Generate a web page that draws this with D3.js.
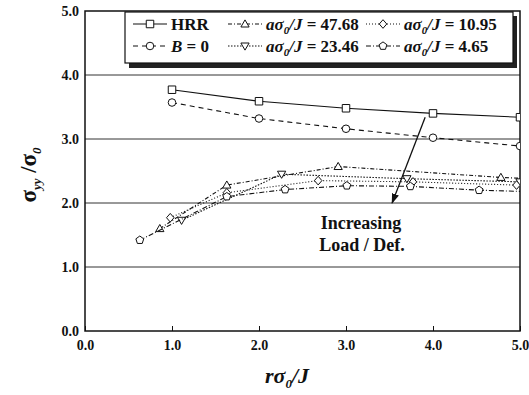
<!DOCTYPE html>
<html>
<head>
<meta charset="utf-8">
<script src="https://cdn.jsdelivr.net/npm/d3@7"></script>
<style>
  html, body { margin: 0; padding: 0; background: #fff; }
  svg { display: block; }
</style>
</head>
<body>
<svg id="chart" width="529" height="395"></svg>
<script>
// Crack-tip opening stress profiles: HRR field, B = 0 reference, and four load levels
const xTicks = [0, 1, 2, 3, 4, 5];
const yTicks = [0, 1, 2, 3, 4, 5];
const tickLabels = ["0.0", "1.0", "2.0", "3.0", "4.0", "5.0"];

const hrrX = [1, 2, 3, 4, 5];
const hrrY = [3.77, 3.59, 3.48, 3.40, 3.34];

const b0X = [1, 2, 3, 4, 5];
const b0Y = [3.57, 3.32, 3.16, 3.02, 2.89];

const a4768X = [0.86, 1.63, 2.91, 4.78, 5.3];
const a4768Y = [1.60, 2.28, 2.57, 2.40, 2.37];

const a2346X = [1.11, 2.26, 3.70, 5.0];
const a2346Y = [1.73, 2.45, 2.38, 2.33];

const a1095X = [0.98, 1.63, 2.68, 3.77, 4.96];
const a1095Y = [1.77, 2.16, 2.35, 2.33, 2.28];

const a465X = [0.63, 1.63, 2.30, 3.01, 3.74, 4.53, 5.3];
const a465Y = [1.42, 2.10, 2.21, 2.27, 2.26, 2.20, 2.17];

const arrowFrom = [3.91, 3.34];
const arrowTo = [3.53, 2.00];

const series = [
  { name: "HRR",   xs: hrrX,   ys: hrrY,   marker: "square",   dash: null },
  { name: "B0",    xs: b0X,    ys: b0Y,    marker: "circle",   dash: "5,4" },
  { name: "47.68", xs: a4768X, ys: a4768Y, marker: "triUp",    dash: "4,2,1,2" },
  { name: "23.46", xs: a2346X, ys: a2346Y, marker: "triDown",  dash: "1.5,1.5" },
  { name: "10.95", xs: a1095X, ys: a1095Y, marker: "diamond",  dash: "1,2" },
  { name: "4.65",  xs: a465X,  ys: a465Y,  marker: "pentagon", dash: "5,2,1,2" }
];

const FONT = '"Liberation Serif", "Times New Roman", serif';
const svg = d3.select("#chart");
const plotLeft = 85, plotRight = 520, plotTop = 11, plotBottom = 331;
const x = d3.scaleLinear().domain([0, 5]).range([plotLeft, plotRight]);
const y = d3.scaleLinear().domain([0, 5]).range([plotBottom, plotTop]);

const defs = svg.append("defs");
defs.append("clipPath").attr("id", "plotClip")
  .append("rect").attr("x", plotLeft).attr("y", plotTop)
  .attr("width", plotRight - plotLeft).attr("height", plotBottom - plotTop);

// horizontal grid lines
svg.append("g").selectAll("line").data(yTicks.slice(1, -1)).join("line")
  .attr("x1", plotLeft).attr("x2", plotRight)
  .attr("y1", d => y(d)).attr("y2", d => y(d))
  .attr("stroke", "#333").attr("stroke-width", 1);

// axes with inward ticks
const xAxis = d3.axisBottom(x).tickValues(xTicks).tickSize(-5).tickFormat((d, i) => tickLabels[i]).tickPadding(9);
const gx = svg.append("g").attr("transform", `translate(0,${plotBottom})`).call(xAxis);
gx.attr("font-family", FONT);
gx.selectAll("text").attr("font-size", 14);
gx.select(".domain").remove();
gx.selectAll("line").attr("stroke", "#111");

const yAxis = d3.axisLeft(y).tickValues(yTicks).tickSize(0).tickFormat((d, i) => tickLabels[i]).tickPadding(6);
const gy = svg.append("g").attr("transform", `translate(${plotLeft},0)`).call(yAxis);
gy.attr("font-family", FONT);
gy.selectAll("text").attr("font-size", 14);
gy.select(".domain").remove();

// plot frame
svg.append("rect").attr("x", plotLeft).attr("y", plotTop)
  .attr("width", plotRight - plotLeft).attr("height", plotBottom - plotTop)
  .attr("fill", "none").attr("stroke", "#111").attr("stroke-width", 1.5);

function markerPath(type, s) {
  const r = s / 2;
  switch (type) {
    case "square": return `M${-r},${-r}H${r}V${r}H${-r}Z`;
    case "circle": return d3.symbol(d3.symbolCircle, s * s * 0.8)();
    case "triUp": return `M0,${-r * 1.1}L${r * 1.1},${r * 0.8}L${-r * 1.1},${r * 0.8}Z`;
    case "triDown": return `M0,${r * 1.1}L${r * 1.1},${-r * 0.8}L${-r * 1.1},${-r * 0.8}Z`;
    case "diamond": return `M0,${-r * 1.15}L${r},0L0,${r * 1.15}L${-r},0Z`;
    case "pentagon": {
      const pts = d3.range(5).map(i => {
        const a = -Math.PI / 2 + i * 2 * Math.PI / 5;
        return [Math.cos(a) * r * 1.1, Math.sin(a) * r * 1.1];
      });
      return "M" + pts.map(p => p.join(",")).join("L") + "Z";
    }
  }
}

const plot = svg.append("g").attr("clip-path", "url(#plotClip)");
const line = d3.line().x(d => x(d[0])).y(d => y(d[1]));

series.forEach(s => {
  const pts = s.xs.map((v, i) => [v, s.ys[i]]);
  plot.append("path").datum(pts).attr("d", line)
    .attr("fill", "none").attr("stroke", "#111").attr("stroke-width", 1.1)
    .attr("stroke-dasharray", s.dash);
  plot.append("g").selectAll("path").data(pts).join("path")
    .attr("transform", d => `translate(${x(d[0])},${y(d[1])})`)
    .attr("d", markerPath(s.marker, 7.5))
    .attr("fill", "#fff").attr("stroke", "#111").attr("stroke-width", 1);
});

// arrow showing increasing load
defs.append("marker").attr("id", "arrowHead")
  .attr("viewBox", "0 0 10 10").attr("refX", 9).attr("refY", 5)
  .attr("markerWidth", 8).attr("markerHeight", 8).attr("orient", "auto")
  .append("path").attr("d", "M0,1.5L10,5L0,8.5Z").attr("fill", "#111");
svg.append("line")
  .attr("x1", x(arrowFrom[0])).attr("y1", y(arrowFrom[1]))
  .attr("x2", x(arrowTo[0])).attr("y2", y(arrowTo[1]))
  .attr("stroke", "#111").attr("stroke-width", 1.3)
  .attr("marker-end", "url(#arrowHead)");

const note = svg.append("text").attr("font-size", 18).attr("text-anchor", "middle");
note.append("tspan").attr("x", 361).attr("y", 229).text("Increasing");
note.append("tspan").attr("x", 362).attr("y", 251).text("Load / Def.");

// legend
const lg = svg.append("g");
lg.append("rect").attr("x", 129).attr("y", 16).attr("width", 388).attr("height", 52).attr("fill", "#222");
lg.append("rect").attr("x", 125).attr("y", 12).attr("width", 388).attr("height", 51)
  .attr("fill", "#fff").attr("stroke", "#111").attr("stroke-width", 1.2);

const cols = [133, 228, 366];
const rows = [24, 46];
const legendItems = [
  { s: series[0], col: 0, row: 0, label: "HRR" },
  { s: series[2], col: 1, row: 0, label: "47.68" },
  { s: series[4], col: 2, row: 0, label: "10.95" },
  { s: series[1], col: 0, row: 1, label: "B0" },
  { s: series[3], col: 1, row: 1, label: "23.46" },
  { s: series[5], col: 2, row: 1, label: "4.65" }
];
legendItems.forEach(it => {
  const x0 = cols[it.col], yy = rows[it.row];
  lg.append("line").attr("x1", x0).attr("x2", x0 + 34).attr("y1", yy).attr("y2", yy)
    .attr("stroke", "#111").attr("stroke-width", 1.1).attr("stroke-dasharray", it.s.dash);
  lg.append("path").attr("transform", `translate(${x0 + 17},${yy})`)
    .attr("d", markerPath(it.s.marker, 7.5))
    .attr("fill", "#fff").attr("stroke", "#111");
  const t = lg.append("text").attr("x", x0 + 38).attr("y", yy + 6).attr("font-size", 17);
  if (it.label === "HRR") {
    t.text("HRR");
  } else if (it.label === "B0") {
    t.append("tspan").attr("font-style", "italic").text("B");
    t.append("tspan").text(" = 0");
  } else {
    t.append("tspan").attr("font-style", "italic").text("a\u03C3");
    t.append("tspan").attr("font-style", "italic").attr("font-size", 11).attr("dy", 4).text("0");
    t.append("tspan").attr("font-style", "italic").attr("dy", -4).text("/J");
    t.append("tspan").text(" = " + it.label);
  }
});

// axis titles
const xt = svg.append("text").attr("x", 287).attr("y", 383).attr("text-anchor", "middle")
  .attr("font-size", 22).attr("font-style", "italic");
xt.append("tspan").text("r\u03C3");
xt.append("tspan").attr("font-size", 13).attr("dy", 5).text("0");
xt.append("tspan").attr("dy", -5).text("/J");

const yt = svg.append("text").attr("transform", "translate(36,175) rotate(-90)")
  .attr("text-anchor", "middle").attr("font-size", 23);
yt.append("tspan").text("\u03C3");
yt.append("tspan").attr("font-size", 13).attr("font-style", "italic").attr("dy", 5).text("yy");
yt.append("tspan").attr("dy", -5).text(" /\u03C3");
yt.append("tspan").attr("font-size", 13).attr("font-style", "italic").attr("dy", 5).text("0");

// typeface for every label, set directly on each text node
svg.selectAll("text")
  .attr("font-family", FONT)
  .attr("font-weight", "bold")
  .attr("fill", "#111");
</script>
</body>
</html>
